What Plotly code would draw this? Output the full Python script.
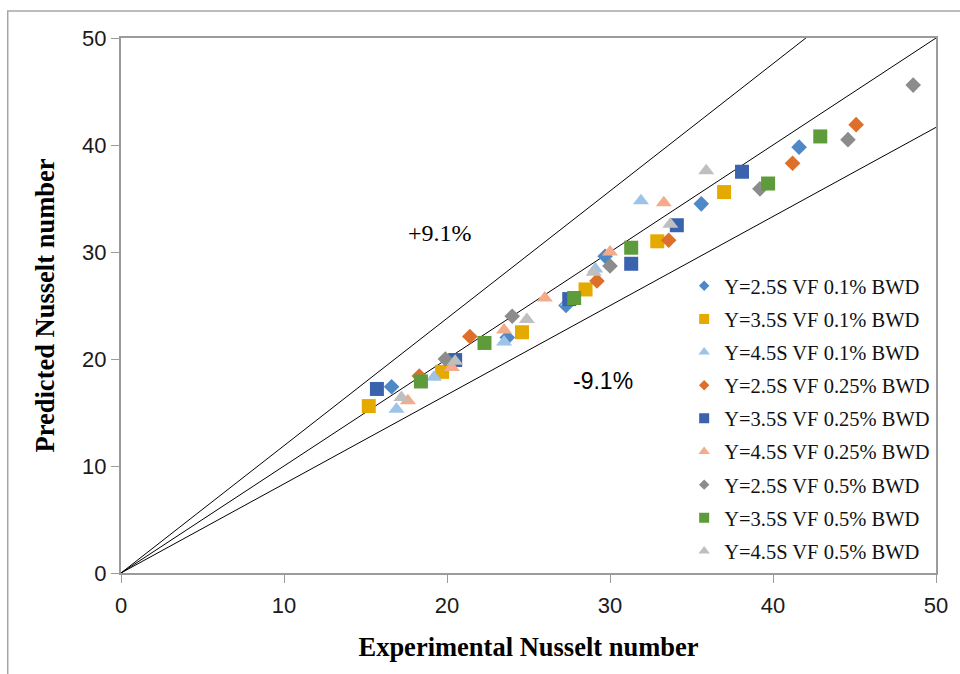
import plotly.graph_objects as go

# Experimental vs predicted Nusselt number, nine test series
names = [
    "Y=2.5S VF 0.1% BWD",
    "Y=3.5S VF 0.1% BWD",
    "Y=4.5S VF 0.1% BWD",
    "Y=2.5S VF 0.25% BWD",
    "Y=3.5S VF 0.25% BWD",
    "Y=4.5S VF 0.25% BWD",
    "Y=2.5S VF 0.5% BWD",
    "Y=3.5S VF 0.5% BWD",
    "Y=4.5S VF 0.5% BWD",
]

exp_s1 = [16.6, 23.7, 27.3, 29.7, 35.6, 41.6]
pred_s1 = [17.4, 22.0, 25.0, 29.6, 34.5, 39.8]

exp_s2 = [15.2, 19.7, 24.6, 28.5, 32.9, 37.0]
pred_s2 = [15.6, 18.8, 22.5, 26.5, 31.0, 35.6]

exp_s3 = [16.9, 19.2, 23.5, 27.4, 29.1, 31.9]
pred_s3 = [15.3, 18.3, 21.6, 25.3, 28.4, 34.8]

exp_s4 = [18.3, 21.4, 29.2, 33.6, 41.2, 45.1]
pred_s4 = [18.4, 22.1, 27.3, 31.1, 38.3, 41.9]

exp_s5 = [15.7, 20.5, 27.5, 31.3, 34.1, 38.1]
pred_s5 = [17.2, 19.9, 25.6, 28.9, 32.5, 37.5]

exp_s6 = [17.6, 20.3, 23.5, 26.0, 30.0, 33.3]
pred_s6 = [16.1, 19.2, 22.7, 25.7, 30.0, 34.6]

exp_s7 = [19.9, 24.0, 30.0, 39.2, 44.6, 48.6]
pred_s7 = [20.0, 24.0, 28.7, 35.9, 40.5, 45.6]

exp_s8 = [18.4, 22.3, 27.8, 31.3, 39.7, 42.9]
pred_s8 = [17.9, 21.5, 25.7, 30.4, 36.4, 40.8]

exp_s9 = [17.2, 20.5, 24.9, 29.0, 33.7, 35.9]
pred_s9 = [16.4, 19.8, 23.7, 28.1, 32.6, 37.6]

exp_all = [exp_s1, exp_s2, exp_s3, exp_s4, exp_s5, exp_s6, exp_s7, exp_s8, exp_s9]
pred_all = [pred_s1, pred_s2, pred_s3, pred_s4, pred_s5, pred_s6, pred_s7, pred_s8, pred_s9]

# reference lines through the origin (slopes)
line_slopes = [1.19, 1.0, 0.833]
line_x = [0, 50]

ticks = [0, 10, 20, 30, 40, 50]

colors = ["#4F88C6", "#E5AA00", "#9DC3E6", "#DD6F2A", "#3A62AD",
          "#F4AB8A", "#8C8C8C", "#5E9B3B", "#BFBFBF"]
symbols = ["diamond", "square", "triangle-up"] * 3
data_sizes = {"diamond": 12, "square": 14, "triangle-up": 14}
legend_sizes = {"diamond": 8, "square": 10, "triangle-up": 10}

fig = go.Figure()

for k in line_slopes:
    fig.add_trace(go.Scatter(
        x=line_x, y=[v * k for v in line_x], mode="lines",
        line=dict(color="black", width=1), showlegend=False, hoverinfo="skip"))

for i, name in enumerate(names):
    sym = symbols[i]
    fig.add_trace(go.Scatter(
        x=exp_all[i], y=pred_all[i], mode="markers", name=name,
        marker=dict(symbol=sym, size=data_sizes[sym], color=colors[i],
                    line=dict(width=0)),
        showlegend=False, legendgroup=f"g{i}"))
    # legend swatch with smaller marker
    fig.add_trace(go.Scatter(
        x=[None], y=[None], mode="markers", name=name,
        marker=dict(symbol=sym, size=legend_sizes[sym], color=colors[i],
                    line=dict(width=0)),
        showlegend=True, legendgroup=f"g{i}"))

axis_common = dict(
    range=[0, 50], tickvals=ticks, showgrid=False, zeroline=False,
    showline=True, linecolor="#9B9B9B", linewidth=2, mirror=True,
    ticks="outside", ticklen=8, tickcolor="#9B9B9B", tickwidth=1,
    tickfont=dict(family="Liberation Sans", size=22, color="#1a1a1a"),
)

fig.update_xaxes(
    **axis_common,
    ticklabelstandoff=4,
    title=dict(text="<b>Experimental Nusselt number</b>",
               font=dict(family="Liberation Serif", size=26.5, color="black"),
               standoff=20),
)
fig.update_yaxes(
    **axis_common,
    title=dict(text="<b>Predicted Nusselt number</b>",
               font=dict(family="Liberation Serif", size=26.5, color="black"),
               standoff=20),
)

fig.add_annotation(x=19.6, y=31.8, text="+9.1%", showarrow=False,
                   font=dict(family="Liberation Serif", size=24, color="black"))
fig.add_annotation(x=29.6, y=17.9, text="-9.1%", showarrow=False,
                   font=dict(family="Liberation Sans", size=23, color="black"))

# outer chart frame
fig.add_shape(type="rect", xref="paper", yref="paper",
              x0=-0.139, x1=1.04, y0=-0.2, y1=1.0505,
              line=dict(color="#A6A6A6", width=1.5), layer="below")

fig.update_layout(
    width=960, height=674,
    margin=dict(l=121, r=24, t=38, b=101),
    paper_bgcolor="white", plot_bgcolor="white",
    legend=dict(
        x=0.691, y=0.574, xanchor="left", yanchor="top",
        bgcolor="rgba(0,0,0,0)", traceorder="grouped", tracegroupgap=3.5,
        font=dict(family="Liberation Serif", size=20.5, color="#111111"),
    ),
)

fig.write_html("out.html")
